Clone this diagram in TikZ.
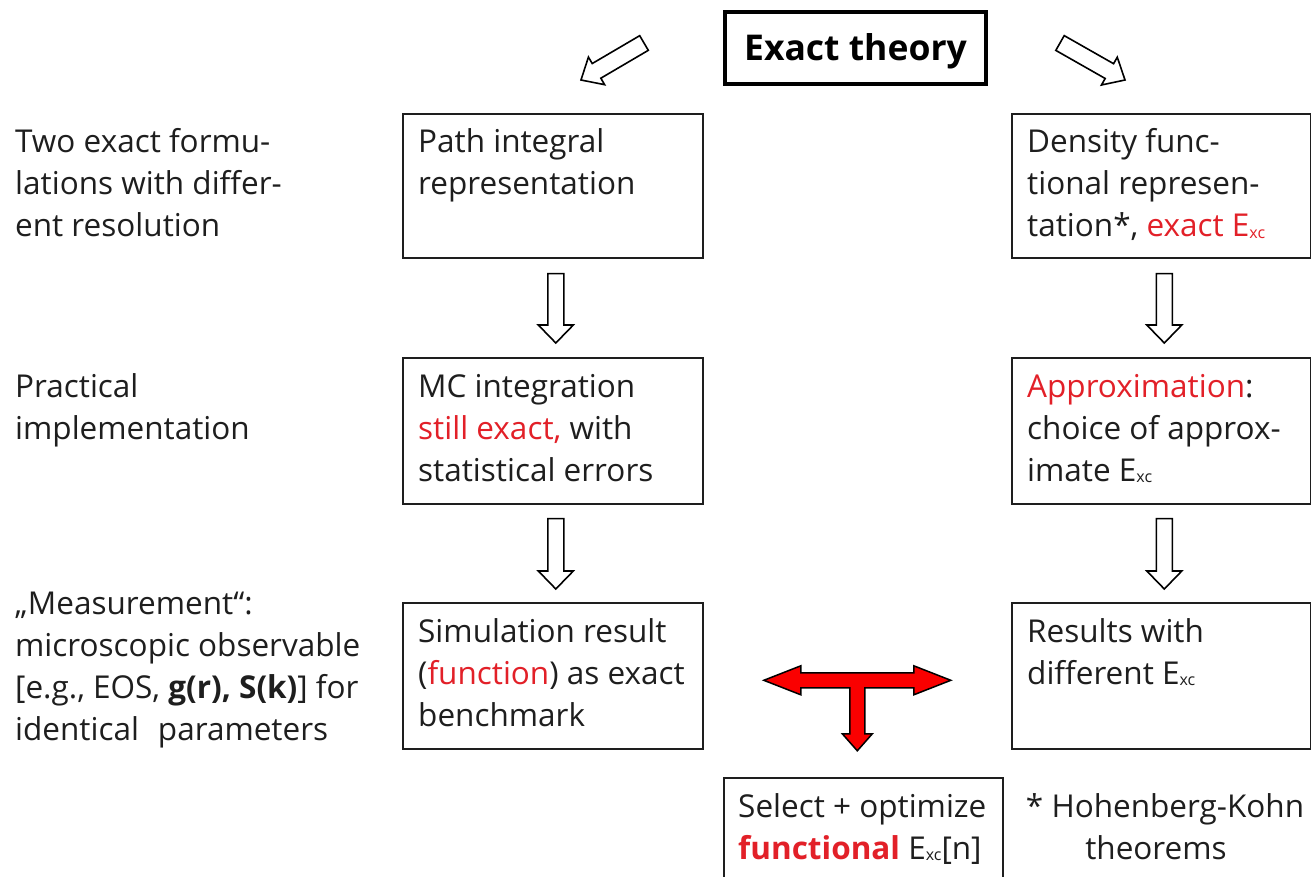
\documentclass[tikz,border=0pt]{standalone}
\usepackage{fontspec}
\setmainfont{Open Sans}
\usetikzlibrary{calc}

\definecolor{ink}{RGB}{30,30,30}
\definecolor{hl}{RGB}{226,32,40}
\definecolor{arrowred}{RGB}{250,0,0}

% small "xc" index of the exchange-correlation energy
\newcommand\subxc{{\fontsize{16}{16}\selectfont\raisebox{-1.5pt}{xc}}}
\newcommand\Exc{E\subxc}
% top-aligned block of lines whose baseline is the first line
\newcommand\txtblock[2][300pt]{\parbox[t]{#1}{\raggedright #2}}
% outlined block arrow from #1 to #2: half shaft #3, half head #4, head length #5
\newcommand\hollowarrow[5]{%
  \coordinate (ha-h) at ($(#2)!#5!(#1)$);
  \draw[hollow] ($(#1)!#3!90:(#2)$) -- ($(ha-h)!#3!90:(#2)$)
    -- ($(ha-h)!#4!90:(#2)$) -- (#2) -- ($(ha-h)!#4!-90:(#2)$)
    -- ($(ha-h)!#3!-90:(#2)$) -- ($(#1)!#3!-90:(#2)$) -- cycle;}

\begin{document}
\begin{tikzpicture}[x=1pt, y=-1pt,
  every node/.style={font=\fontsize{31.5}{42}\selectfont, text=ink},
  box/.style={draw=ink, line width=1.6pt, rectangle, inner sep=0pt, anchor=north west},
  txt/.style={anchor=base west, inner sep=0pt},
  hollow/.style={draw=black, line width=1.6pt, fill=white, line join=miter},
]
\useasboundingbox (0,0) rectangle (1311,877);

% title box
\node[draw=black, line width=4pt, minimum width=261pt, minimum height=72pt,
      inner sep=0pt, text height=26pt, text depth=0pt,
      font=\fontsize{35.5}{40}\selectfont\bfseries, text=black]
      (ex) at (855.5,48) {Exact theory};

% row captions on the left
\node[txt] (cap1) at (15,153) {\txtblock[380pt]{Two exact formu-\\lations with differ-\\ent resolution}};
\node[txt] (cap2) at (15,397) {\txtblock[380pt]{Practical\\implementation}};
\node[txt] (cap3) at (15,614) {\txtblock[380pt]{„Measurement“:\\microscopic observable\\{}[e.g., EOS, \textbf{g(r), S(k)}] for\\identical\hspace{0.6em}parameters}};

% left column: path integrals
\node[box, minimum width=300pt, minimum height=144pt] (pi) at (402,113) {};
\node[box, minimum width=300pt, minimum height=146pt] (mc) at (402,357) {};
\node[box, minimum width=300pt, minimum height=146pt] (sim) at (402,602) {};
\node[txt] (pit) at ($(pi.north west)+(16,40)$) {\txtblock{Path integral\\representation}};
\node[txt] (mct) at ($(mc.north west)+(16,40)$) {\txtblock{MC integration\\\textcolor{hl}{still exact,} with\\statistical errors}};
\node[txt] (simt) at ($(sim.north west)+(16,40)$) {\txtblock{Simulation result\\(\textcolor{hl}{function}) as exact\\benchmark}};

% right column: density functional theory
\node[box, minimum width=299pt, minimum height=144pt] (df) at (1011,113) {};
\node[box, minimum width=299pt, minimum height=146pt] (ap) at (1011,357) {};
\node[box, minimum width=299pt, minimum height=146pt] (res) at (1011,602) {};
\node[txt] (dft) at ($(df.north west)+(16,40)$) {\txtblock{Density func-\\tional represen-\\tation*, \textcolor{hl}{exact \Exc}}};
\node[txt] (apt) at ($(ap.north west)+(16,40)$) {\txtblock{\textcolor{hl}{Approximation}:\\choice of approx-\\imate \Exc}};
\node[txt] (rest) at ($(res.north west)+(16,40)$) {\txtblock{Results with\\different \Exc}};

% bottom box and footnote
\node[box, minimum width=279pt, minimum height=130pt] (sel) at (723,777) {};
\node[txt] (selt) at ($(sel.north west)+(15,40)$) {\txtblock{Select + optimize\\\textcolor{hl}{\textbf{functional}} \Exc[n]}};
\node[anchor=base, inner sep=0pt] (hk) at (1165,817) {\parbox[t]{300pt}{\centering * Hohenberg-Kohn\\theorems\hspace*{18pt}}};

% outlined arrows from the title box
\coordinate (dl1) at ($(ex.west)+(-79,-5)$);
\coordinate (dl2) at ($(ex.west)+(-142,32)$);
\coordinate (dr1) at ($(ex.east)+(72,-5)$);
\coordinate (dr2) at ($(ex.east)+(137,32)$);
\hollowarrow{dl1}{dl2}{8.5pt}{16pt}{18pt}
\hollowarrow{dr1}{dr2}{8.5pt}{16pt}{18pt}

% outlined arrows down each column
\coordinate (a1) at ($(pi.south)+(3,15)$);  \coordinate (a2) at ($(mc.north)+(3,-14)$);
\coordinate (a3) at ($(mc.south)+(3,14)$);  \coordinate (a4) at ($(sim.north)+(3,-13)$);
\coordinate (b1) at ($(df.south)+(3,15)$);  \coordinate (b2) at ($(ap.north)+(3,-14)$);
\coordinate (b3) at ($(ap.south)+(3,14)$);  \coordinate (b4) at ($(res.north)+(3,-13)$);
\hollowarrow{a1}{a2}{8pt}{17.5pt}{18pt}
\hollowarrow{a3}{a4}{8pt}{17.5pt}{18pt}
\hollowarrow{b1}{b2}{8pt}{17.5pt}{18pt}
\hollowarrow{b3}{b4}{8pt}{17.5pt}{18pt}

% red T-shaped arrow: compare both results, then select
\coordinate (tc) at ($($(sim.east)!0.5!(res.west)$)+(0,4.5)$);
\begin{scope}[shift={(tc)}]
\draw[fill=arrowred, draw=black, line width=1.5pt, line join=miter]
  (-93.5,0) -- (-56.5,-14.5) -- (-56.5,-7.5) -- (56.5,-7.5) -- (56.5,-14.5)
  -- (93.5,0) -- (56.5,14.5) -- (56.5,7.5) -- (7.5,7.5) -- (7.5,53.5)
  -- (15,53.5) -- (0,70.5) -- (-15,53.5) -- (-7.5,53.5) -- (-7.5,7.5)
  -- (-56.5,7.5) -- (-56.5,14.5) -- cycle;
\end{scope}
\end{tikzpicture}
\end{document}
